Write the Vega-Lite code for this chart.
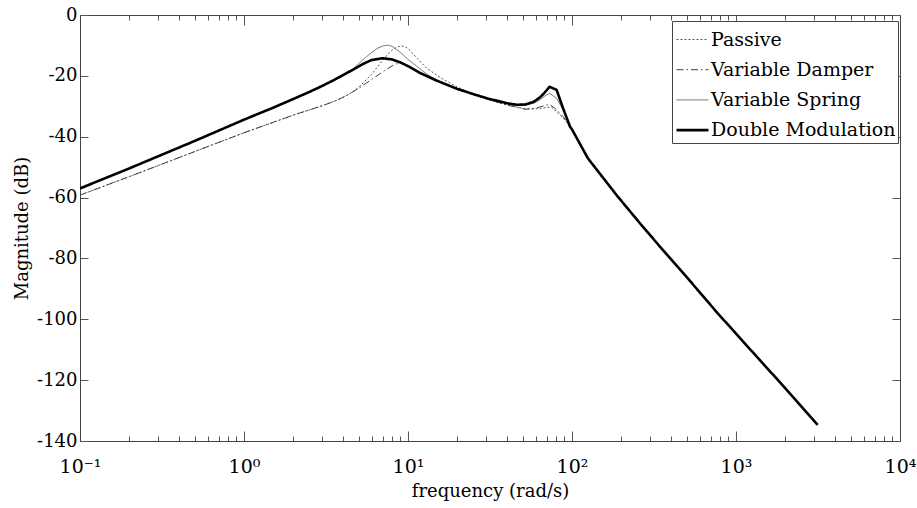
{
  "$schema": "https://vega.github.io/schema/vega-lite/v6.json",
  "width": 820,
  "height": 426,
  "autosize": "none",
  "padding": {"left": 80, "top": 15, "right": 17, "bottom": 67},
  "background": "white",
  "config": {
    "font": "DejaVu Serif",
    "view": {"stroke": null},
    "axis": {"labelFont": "DejaVu Serif", "titleFont": "DejaVu Serif"},
    "legend": {"labelFont": "DejaVu Serif", "titleFont": "DejaVu Serif"}
  },
  "datasets": {
    "d": [
      {"s": "Passive", "f": 0.1, "db": -59.2}, {"s": "Passive", "f": 0.2, "db": -53.1}, {"s": "Passive", "f": 0.5, "db": -44.9}, {"s": "Passive", "f": 1, "db": -38.7}, {"s": "Passive", "f": 1.5, "db": -35.3}, {"s": "Passive", "f": 2, "db": -32.9}, {"s": "Passive", "f": 2.5, "db": -31.2}, {"s": "Passive", "f": 3, "db": -29.8}, {"s": "Passive", "f": 3.5, "db": -28.5}, {"s": "Passive", "f": 4, "db": -27.1}, {"s": "Passive", "f": 4.5, "db": -25.6}, {"s": "Passive", "f": 5, "db": -23.8}, {"s": "Passive", "f": 6, "db": -19.5}, {"s": "Passive", "f": 7, "db": -14.9}, {"s": "Passive", "f": 7.5, "db": -13.0}, {"s": "Passive", "f": 8, "db": -11.6}, {"s": "Passive", "f": 8.5, "db": -10.6}, {"s": "Passive", "f": 9, "db": -10.2}, {"s": "Passive", "f": 9.5, "db": -10.3}, {"s": "Passive", "f": 10, "db": -11.0}, {"s": "Passive", "f": 11.4, "db": -14.3}, {"s": "Passive", "f": 13, "db": -17.5}, {"s": "Passive", "f": 15.8, "db": -20.6}, {"s": "Passive", "f": 20, "db": -23.7}, {"s": "Passive", "f": 25, "db": -25.9}, {"s": "Passive", "f": 30, "db": -27.6}, {"s": "Passive", "f": 40, "db": -29.6}, {"s": "Passive", "f": 46, "db": -30.3}, {"s": "Passive", "f": 52, "db": -30.8}, {"s": "Passive", "f": 58.6, "db": -30.9}, {"s": "Passive", "f": 64, "db": -30.7}, {"s": "Passive", "f": 70, "db": -30.4}, {"s": "Passive", "f": 75, "db": -30.3}, {"s": "Passive", "f": 80.6, "db": -31.8}, {"s": "Passive", "f": 88.4, "db": -33.8}, {"s": "Passive", "f": 95, "db": -36.0}, {"s": "Passive", "f": 100, "db": -37.7}, {"s": "Passive", "f": 125, "db": -47.1}, {"s": "Passive", "f": 189, "db": -59.5}, {"s": "Passive", "f": 262, "db": -68.7}, {"s": "Passive", "f": 350, "db": -76.6}, {"s": "Passive", "f": 480, "db": -85.0}, {"s": "Passive", "f": 770, "db": -97.9}, {"s": "Passive", "f": 1230, "db": -110.1}, {"s": "Passive", "f": 1970, "db": -122.3}, {"s": "Passive", "f": 3150, "db": -134.7},
      {"s": "Variable Damper", "f": 0.1, "db": -59.2}, {"s": "Variable Damper", "f": 0.2, "db": -53.1}, {"s": "Variable Damper", "f": 0.5, "db": -44.9}, {"s": "Variable Damper", "f": 1, "db": -38.7}, {"s": "Variable Damper", "f": 1.5, "db": -35.3}, {"s": "Variable Damper", "f": 2, "db": -32.9}, {"s": "Variable Damper", "f": 2.5, "db": -31.2}, {"s": "Variable Damper", "f": 3, "db": -29.8}, {"s": "Variable Damper", "f": 3.5, "db": -28.5}, {"s": "Variable Damper", "f": 4, "db": -27.1}, {"s": "Variable Damper", "f": 4.5, "db": -25.6}, {"s": "Variable Damper", "f": 5, "db": -24.1}, {"s": "Variable Damper", "f": 6, "db": -21.2}, {"s": "Variable Damper", "f": 7, "db": -18.7}, {"s": "Variable Damper", "f": 8, "db": -16.7}, {"s": "Variable Damper", "f": 8.6, "db": -16.0}, {"s": "Variable Damper", "f": 9.2, "db": -15.9}, {"s": "Variable Damper", "f": 10, "db": -16.7}, {"s": "Variable Damper", "f": 11.4, "db": -18.4}, {"s": "Variable Damper", "f": 13, "db": -19.8}, {"s": "Variable Damper", "f": 15, "db": -21.5}, {"s": "Variable Damper", "f": 20, "db": -24.1}, {"s": "Variable Damper", "f": 25, "db": -25.9}, {"s": "Variable Damper", "f": 30, "db": -27.5}, {"s": "Variable Damper", "f": 40, "db": -29.6}, {"s": "Variable Damper", "f": 46, "db": -30.3}, {"s": "Variable Damper", "f": 52, "db": -31.0}, {"s": "Variable Damper", "f": 58.6, "db": -30.7}, {"s": "Variable Damper", "f": 64, "db": -30.2}, {"s": "Variable Damper", "f": 67.6, "db": -29.8}, {"s": "Variable Damper", "f": 73, "db": -29.4}, {"s": "Variable Damper", "f": 80.6, "db": -31.1}, {"s": "Variable Damper", "f": 88.4, "db": -33.4}, {"s": "Variable Damper", "f": 95, "db": -35.8}, {"s": "Variable Damper", "f": 100, "db": -37.6}, {"s": "Variable Damper", "f": 125, "db": -47.1}, {"s": "Variable Damper", "f": 189, "db": -59.5}, {"s": "Variable Damper", "f": 262, "db": -68.7}, {"s": "Variable Damper", "f": 350, "db": -76.6}, {"s": "Variable Damper", "f": 480, "db": -85.0}, {"s": "Variable Damper", "f": 770, "db": -97.9}, {"s": "Variable Damper", "f": 1230, "db": -110.1}, {"s": "Variable Damper", "f": 1970, "db": -122.3}, {"s": "Variable Damper", "f": 3150, "db": -134.7},
      {"s": "Variable Spring", "f": 0.1, "db": -57.0}, {"s": "Variable Spring", "f": 0.2, "db": -50.4}, {"s": "Variable Spring", "f": 0.5, "db": -41.4}, {"s": "Variable Spring", "f": 1, "db": -34.4}, {"s": "Variable Spring", "f": 1.5, "db": -30.5}, {"s": "Variable Spring", "f": 2, "db": -27.6}, {"s": "Variable Spring", "f": 2.5, "db": -25.3}, {"s": "Variable Spring", "f": 3, "db": -23.3}, {"s": "Variable Spring", "f": 3.5, "db": -21.5}, {"s": "Variable Spring", "f": 4, "db": -19.8}, {"s": "Variable Spring", "f": 4.5, "db": -18.3}, {"s": "Variable Spring", "f": 5, "db": -16.0}, {"s": "Variable Spring", "f": 5.5, "db": -14.0}, {"s": "Variable Spring", "f": 6, "db": -12.3}, {"s": "Variable Spring", "f": 6.5, "db": -11.0}, {"s": "Variable Spring", "f": 7, "db": -10.2}, {"s": "Variable Spring", "f": 7.5, "db": -9.9}, {"s": "Variable Spring", "f": 8, "db": -10.3}, {"s": "Variable Spring", "f": 9, "db": -12.3}, {"s": "Variable Spring", "f": 10, "db": -14.6}, {"s": "Variable Spring", "f": 11.4, "db": -17.0}, {"s": "Variable Spring", "f": 13, "db": -19.4}, {"s": "Variable Spring", "f": 15, "db": -21.4}, {"s": "Variable Spring", "f": 20, "db": -24.3}, {"s": "Variable Spring", "f": 25, "db": -26.0}, {"s": "Variable Spring", "f": 30, "db": -27.3}, {"s": "Variable Spring", "f": 40, "db": -29.1}, {"s": "Variable Spring", "f": 46, "db": -29.8}, {"s": "Variable Spring", "f": 52, "db": -29.6}, {"s": "Variable Spring", "f": 58.6, "db": -29.0}, {"s": "Variable Spring", "f": 64, "db": -27.8}, {"s": "Variable Spring", "f": 67.6, "db": -26.8}, {"s": "Variable Spring", "f": 73, "db": -25.7}, {"s": "Variable Spring", "f": 80.6, "db": -27.4}, {"s": "Variable Spring", "f": 88.4, "db": -31.2}, {"s": "Variable Spring", "f": 95, "db": -35.2}, {"s": "Variable Spring", "f": 100, "db": -37.4}, {"s": "Variable Spring", "f": 125, "db": -47.1}, {"s": "Variable Spring", "f": 189, "db": -59.5}, {"s": "Variable Spring", "f": 262, "db": -68.7}, {"s": "Variable Spring", "f": 350, "db": -76.6}, {"s": "Variable Spring", "f": 480, "db": -85.0}, {"s": "Variable Spring", "f": 770, "db": -97.9}, {"s": "Variable Spring", "f": 1230, "db": -110.1}, {"s": "Variable Spring", "f": 1970, "db": -122.3}, {"s": "Variable Spring", "f": 3150, "db": -134.7},
      {"s": "Double Modulation", "f": 0.1, "db": -57.0}, {"s": "Double Modulation", "f": 0.2, "db": -50.4}, {"s": "Double Modulation", "f": 0.5, "db": -41.4}, {"s": "Double Modulation", "f": 1, "db": -34.4}, {"s": "Double Modulation", "f": 1.5, "db": -30.5}, {"s": "Double Modulation", "f": 2, "db": -27.6}, {"s": "Double Modulation", "f": 2.5, "db": -25.3}, {"s": "Double Modulation", "f": 3, "db": -23.3}, {"s": "Double Modulation", "f": 3.5, "db": -21.5}, {"s": "Double Modulation", "f": 4, "db": -19.8}, {"s": "Double Modulation", "f": 4.5, "db": -18.3}, {"s": "Double Modulation", "f": 5, "db": -16.9}, {"s": "Double Modulation", "f": 5.5, "db": -15.7}, {"s": "Double Modulation", "f": 6, "db": -14.8}, {"s": "Double Modulation", "f": 7, "db": -14.2}, {"s": "Double Modulation", "f": 8, "db": -14.6}, {"s": "Double Modulation", "f": 9, "db": -15.6}, {"s": "Double Modulation", "f": 10, "db": -16.8}, {"s": "Double Modulation", "f": 12, "db": -19.2}, {"s": "Double Modulation", "f": 15, "db": -21.6}, {"s": "Double Modulation", "f": 20, "db": -24.3}, {"s": "Double Modulation", "f": 25, "db": -26.0}, {"s": "Double Modulation", "f": 30, "db": -27.3}, {"s": "Double Modulation", "f": 40, "db": -29.0}, {"s": "Double Modulation", "f": 46, "db": -29.5}, {"s": "Double Modulation", "f": 52, "db": -29.4}, {"s": "Double Modulation", "f": 58.6, "db": -28.5}, {"s": "Double Modulation", "f": 64, "db": -27.0}, {"s": "Double Modulation", "f": 67.6, "db": -25.7}, {"s": "Double Modulation", "f": 73, "db": -23.6}, {"s": "Double Modulation", "f": 80.6, "db": -24.6}, {"s": "Double Modulation", "f": 88, "db": -30.5}, {"s": "Double Modulation", "f": 97.3, "db": -36.7}, {"s": "Double Modulation", "f": 100, "db": -37.6}, {"s": "Double Modulation", "f": 125, "db": -47.1}, {"s": "Double Modulation", "f": 189, "db": -59.5}, {"s": "Double Modulation", "f": 262, "db": -68.7}, {"s": "Double Modulation", "f": 350, "db": -76.6}, {"s": "Double Modulation", "f": 480, "db": -85.0}, {"s": "Double Modulation", "f": 770, "db": -97.9}, {"s": "Double Modulation", "f": 1230, "db": -110.1}, {"s": "Double Modulation", "f": 1970, "db": -122.3}, {"s": "Double Modulation", "f": 3150, "db": -134.7}
    ]
  },
  "data": {"name": "d"},
  "layer": [
    {
      "mark": {"type": "line", "clip": true, "strokeJoin": "round"},
      "encoding": {
        "x": {
          "field": "f", "type": "quantitative",
          "scale": {"type": "log", "domain": [0.1, 10000], "nice": false},
          "axis": {
            "orient": "bottom",
            "values": [0.1,0.2,0.3,0.4,0.5,0.6,0.7,0.8,0.9,1,2,3,4,5,6,7,8,9,10,20,30,40,50,60,70,80,90,100,200,300,400,500,600,700,800,900,1000,2000,3000,4000,5000,6000,7000,8000,9000,10000],
            "labelExpr": "datum.value == 0.1 ? '10⁻¹' : datum.value == 1 ? '10⁰' : datum.value == 10 ? '10¹' : datum.value == 100 ? '10²' : datum.value == 1000 ? '10³' : datum.value == 10000 ? '10⁴' : ''",
            "tickSize": {"condition": {"test": "indexof([0.1,1,10,100,1000,10000], datum.value) >= 0", "value": -10}, "value": -5},
            "labelPadding": 26,
            "labelFont": "DejaVu Serif",
            "labelFontSize": 19,
            "labelColor": "black",
            "labelFlush": false,
            "labelOverlap": false,
            "labelBound": false,
            "tickColor": "#555",
            "domainColor": "#444",
            "grid": false,
            "title": "frequency (rad/s)",
            "titleFont": "DejaVu Serif",
            "titleFontSize": 18,
            "titleFontWeight": "normal",
            "titleColor": "black",
            "titlePadding": 1
          }
        },
        "y": {
          "field": "db", "type": "quantitative",
          "scale": {"domain": [-140, 0], "nice": false, "zero": false},
          "axis": {
            "orient": "left",
            "values": [-140,-120,-100,-80,-60,-40,-20,0],
            "labelExpr": "datum.value < 0 ? '-' + abs(datum.value) : '' + datum.value",
            "tickSize": -8,
            "labelPadding": 11,
            "labelFont": "DejaVu Serif",
            "labelFontSize": 18,
            "labelColor": "black",
            "labelFlush": false,
            "labelOverlap": false,
            "tickColor": "#555",
            "domainColor": "#444",
            "grid": false,
            "title": "Magnitude (dB)",
            "titleFont": "DejaVu Serif",
            "titleFontSize": 18,
            "titleFontWeight": "normal",
            "titleColor": "black",
            "titlePadding": 5
          }
        },
        "color": {
          "field": "s", "type": "nominal",
          "scale": {"domain": ["Passive", "Variable Damper", "Variable Spring", "Double Modulation"], "range": ["#555", "#444", "#666", "#000"]},
          "legend": {
            "orient": "none", "legendX": 592, "legendY": 6,
            "title": null,
            "direction": "vertical",
            "strokeColor": "#444",
            "fillColor": "white",
            "padding": 2,
            "symbolType": "stroke",
            "symbolSize": 1024,
            "symbolStrokeWidth": 1,
            "symbolOffset": 2,
            "labelFont": "DejaVu Serif",
            "labelFontSize": 19,
            "labelColor": "black",
            "labelLimit": 400,
            "labelOffset": 2,
            "rowPadding": 3.2,
            "encode": {"symbols": {"update": {"strokeWidth": {"signal": "(datum.label == 'Double Modulation' ? 2.6 : 1)"}}}}
          }
        },
        "strokeDash": {
          "field": "s", "type": "nominal",
          "scale": {"domain": ["Passive", "Variable Damper", "Variable Spring", "Double Modulation"], "range": [[2, 2], [7, 3, 1.5, 3], [1, 0], [1, 0]]}
        },
        "strokeWidth": {
          "condition": {"test": "datum.s == 'Double Modulation'", "value": 2.6},
          "value": 1
        }
      }
    },
    {
      "mark": {"type": "line", "opacity": 0},
      "encoding": {
        "x": {
          "field": "f", "type": "quantitative",
          "scale": {"type": "log", "domain": [0.1, 10000], "nice": false},
          "axis": {
            "orient": "top",
            "values": [0.1,0.2,0.3,0.4,0.5,0.6,0.7,0.8,0.9,1,2,3,4,5,6,7,8,9,10,20,30,40,50,60,70,80,90,100,200,300,400,500,600,700,800,900,1000,2000,3000,4000,5000,6000,7000,8000,9000,10000],
            "labels": false,
            "tickSize": {"condition": {"test": "indexof([0.1,1,10,100,1000,10000], datum.value) >= 0", "value": -10}, "value": -5},
            "tickColor": "#555",
            "domainColor": "#444",
            "grid": false,
            "title": null
          }
        },
        "y": {
          "field": "db", "type": "quantitative",
          "scale": {"domain": [-140, 0], "nice": false, "zero": false},
          "axis": {
            "orient": "right",
            "values": [-140,-120,-100,-80,-60,-40,-20,0],
            "labels": false,
            "tickSize": -8,
            "tickColor": "#555",
            "domainColor": "#444",
            "grid": false,
            "title": null
          }
        },
        "detail": {"field": "s", "type": "nominal"}
      }
    }
  ],
  "resolve": {"axis": {"x": "independent", "y": "independent"}}
}
